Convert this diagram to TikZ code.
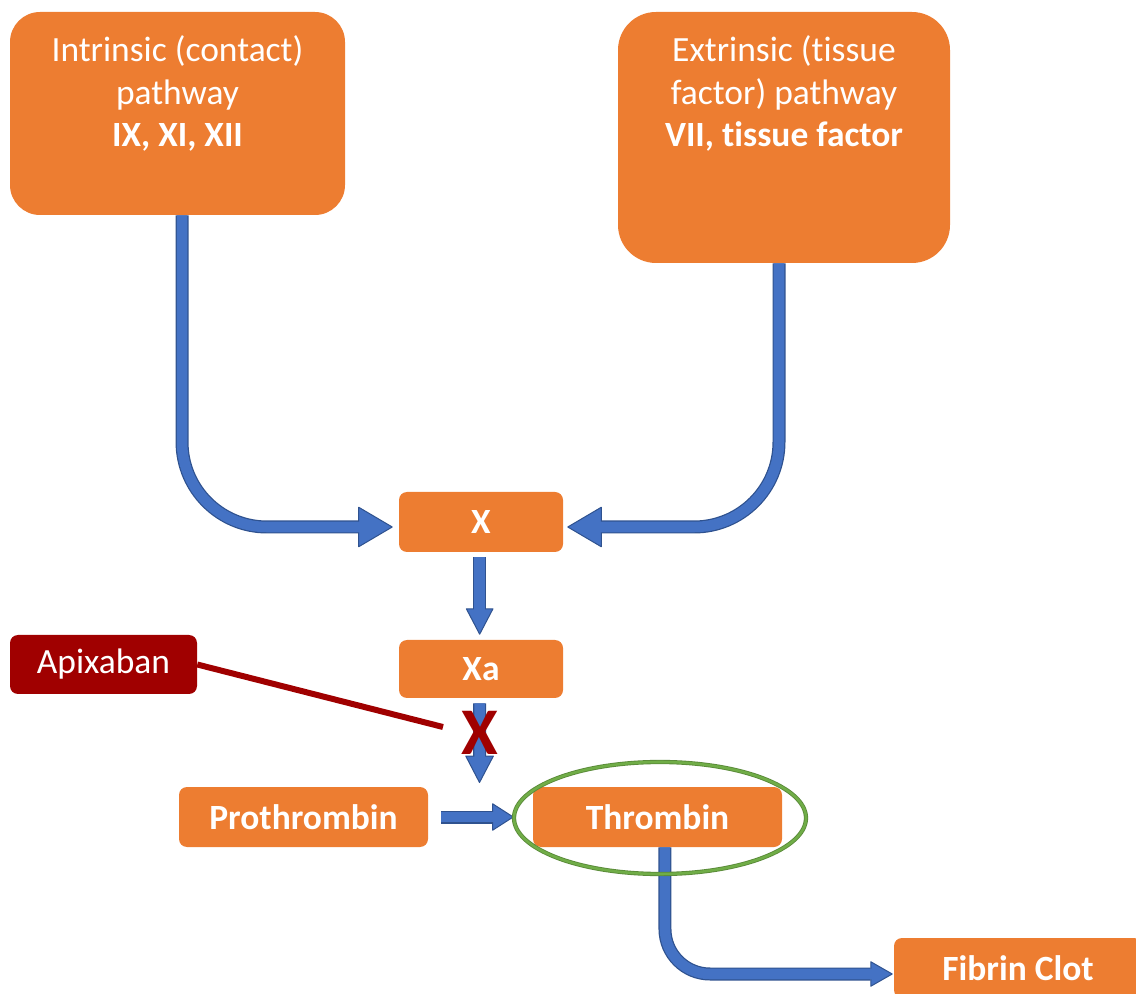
\documentclass[tikz,border=0pt]{standalone}
\usepackage{fontspec}
\setmainfont{Carlito}[Ligatures=NoCommon]
\usetikzlibrary{arrows.meta,shapes.geometric}
\definecolor{corange}{HTML}{ED7D31}
\definecolor{cblue}{HTML}{4472C4}
\definecolor{cblueD}{HTML}{2F528F}
\definecolor{cred}{HTML}{A00000}
\definecolor{cgreen}{HTML}{70AD47}
% #1 head length, #2 head width, #3 inner shorten, #4 path options, #5 path
\newcommand\blockflow[5]{%
  \draw[shaftout,#4,-{Triangle[length=#1,width=#2,fill=cblue,line width=0.75pt,round]}] #5;
  \draw[shaftin,#4,shorten >=#3] #5;
}
\begin{document}
\begin{tikzpicture}[x=0.75pt,y=-0.75pt,
  lbl/.style={text=white,align=center,inner sep=0pt,font=\fontsize{26.6}{31.9}\selectfont},
  box/.style={rectangle,rounded corners=6pt,fill=corange,text=white,inner sep=0pt,
    font=\fontsize{26.6}{31.9}\selectfont\bfseries},
  bigbox/.style={rectangle,fill=corange,inner sep=0pt},
  shaftout/.style={draw=cblueD,line width=9.75pt},
  shaftin/.style={draw=cblue,line width=7.9pt},
]
\useasboundingbox (0,0) rectangle (1136,994);

% pathway boxes
\node[bigbox,rounded corners=22.5pt,minimum width=251.25pt,minimum height=152.25pt] (intr) at (177.5,113.5) {};
\node[lbl] (intrtxt) at (177.5,93.5) {Intrinsic (contact)\\pathway\\\textbf{IX, XI, XII}};
\node[bigbox,rounded corners=28.5pt,minimum width=249pt,minimum height=188.25pt] (extr) at (784,137.5) {};
\node[lbl] (extrtxt) at (784,93.5) {Extrinsic (tissue\\factor) pathway\\\textbf{VII, tissue factor}};

% factor boxes
\node[box,minimum width=123pt,minimum height=45pt] (X) at (481,522) {X};
\node[box,minimum width=123pt,minimum height=43.5pt] (Xa) at (481,669) {Xa};
\node[box,fill=cred,font=\fontsize{26.6}{31.9}\selectfont,minimum width=140.25pt,minimum height=44.25pt] (apix) at (103.5,664.5) {Apixaban};
\node[box,minimum width=186.75pt,minimum height=45pt] (proth) at (303.5,817) {Prothrombin};
\node[box,minimum width=186.75pt,minimum height=45pt] (thromb) at (657.5,817) {Thrombin};
\node[box,minimum width=186pt,minimum height=45pt] (fibrin) at (1018,968) {Fibrin Clot};

% ring around thrombin (geometry only, drawn later)
\node[ellipse,inner sep=0pt,minimum width=219pt,minimum height=84pt] (ring) at (660,818) {};

% free ends
\coordinate (blk) at (479.5,783);
\coordinate (inhib) at (443,727);

% connectors
\blockflow{26.25pt}{30.75pt}{24.5pt}{rounded corners=63.75pt}{([xshift=3.4pt]intr.south) |- ([xshift=-4.5pt,yshift=-3.75pt]X.west)}
\blockflow{26.25pt}{30.75pt}{24.5pt}{rounded corners=63.75pt}{([xshift=-3.75pt]extr.south) |- ([xshift=3pt,yshift=-3.75pt]X.east)}
\blockflow{20.25pt}{21pt}{18.5pt}{}{([xshift=-1pt,yshift=-3.75pt]X.south) -- ([xshift=-1pt,yshift=3.75pt]Xa.north)}
\blockflow{21pt}{21.75pt}{19.25pt}{}{([xshift=-1pt,yshift=-3.75pt]Xa.south) -- (blk)}
\blockflow{16.5pt}{21pt}{14.75pt}{}{([xshift=9.75pt]proth.east) -- (proth.east -| ring.west)}
\blockflow{17.25pt}{19.5pt}{15.5pt}{rounded corners=33.75pt}{([xshift=5.6pt]thromb.south) |- ([xshift=-0.75pt,yshift=-4.5pt]fibrin.west)}

% apixaban inhibition
\draw[cred,line width=4.5pt] (apix.east) -- (inhib);
\node[text=cred,inner sep=0pt,font=\fontsize{50}{58}\selectfont\bfseries] (blockmark) at (480,732.5) {X};

% green ring
\draw[cgreen!80!black,line width=3.2pt] (ring.center) ellipse [x radius=146, y radius=56];
\draw[cgreen,line width=1.9pt] (ring.center) ellipse [x radius=146, y radius=56];
\end{tikzpicture}
\end{document}
